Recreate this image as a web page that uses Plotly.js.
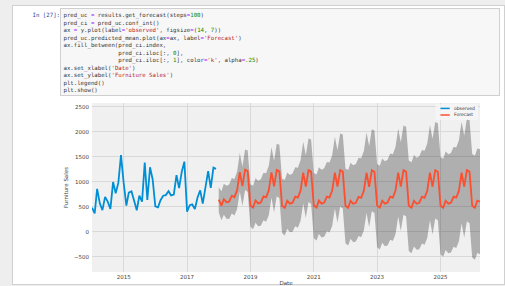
<!DOCTYPE html>
<html>
<head>
<meta charset="utf-8">
<script src="https://cdn.plot.ly/plotly-3.0.1.min.js"></script>
<style>
html,body{margin:0;padding:0;background:#eeeeee;width:505px;height:286px;overflow:hidden;}
#cell{position:absolute;left:12px;top:5px;width:491px;height:278px;background:#ffffff;border:1px solid #d0d0d0;}
#prompt{position:absolute;left:14px;top:11.5px;width:46px;text-align:right;font-family:"DejaVu Sans Mono",monospace;font-size:5.7px;line-height:7.5px;color:#303F9F;white-space:pre;}
#code{position:absolute;left:60px;top:8px;width:438px;height:86px;background:#f7f7f7;border:1px solid #cfcfcf;}
#code .ln{position:absolute;left:2.5px;height:7.5px;font-family:"DejaVu Sans Mono",monospace;font-size:5.7px;line-height:7.5px;color:#333333;white-space:pre;}
.s{color:#BA2121}.n{color:#008800}.o{color:#AA22FF}
#chart{position:absolute;left:0;top:0;width:505px;height:286px;}
</style>
</head>
<body>
<div id="cell"></div>
<div id="prompt">In [27]:</div>
<div id="code">
<div class="ln" style="top:3px">pred_uc <span class="o">=</span> results.get_forecast(steps<span class="o">=</span><span class="n">100</span>)</div>
<div class="ln" style="top:10.5px">pred_ci <span class="o">=</span> pred_uc.conf_int()</div>
<div class="ln" style="top:18px">ax <span class="o">=</span> y.plot(label<span class="o">=</span><span class="s">'observed'</span>, figsize<span class="o">=</span>(<span class="n">14</span>, <span class="n">7</span>))</div>
<div class="ln" style="top:25.5px">pred_uc.predicted_mean.plot(ax<span class="o">=</span>ax, label<span class="o">=</span><span class="s">'Forecast'</span>)</div>
<div class="ln" style="top:33px">ax.fill_between(pred_ci.index,</div>
<div class="ln" style="top:40.5px">                pred_ci.iloc[:, <span class="n">0</span>],</div>
<div class="ln" style="top:48px">                pred_ci.iloc[:, <span class="n">1</span>], color<span class="o">=</span><span class="s">'k'</span>, alpha<span class="o">=</span><span class="n">.25</span>)</div>
<div class="ln" style="top:55.5px">ax.set_xlabel(<span class="s">'Date'</span>)</div>
<div class="ln" style="top:63px">ax.set_ylabel(<span class="s">'Furniture Sales'</span>)</div>
<div class="ln" style="top:70.5px">plt.legend()</div>
<div class="ln" style="top:78px">plt.show()</div>
</div>
<div id="chart"></div>
<script>
// ---- data ----
const observedStart = [2014, 1];
const observedSales = [
  480, 368, 857, 567, 432, 695, 601, 457, 992, 769, 980, 1532,
  978, 522, 781, 806, 625, 429, 720, 602, 1383, 633, 1287, 1049,
  509, 489, 629, 720, 731, 809, 724, 741, 1130, 870, 1200, 1400,
  400, 530, 545, 455, 680, 825, 560, 860, 1210, 875, 1280, 1256
];
const forecastStart = [2018, 1];
const forecastMean = [
  640, 520, 650, 590, 600, 720, 690, 830, 1190, 910, 1240, 1210,
  525, 485, 625, 565, 585, 705, 685, 825, 1185, 905, 1235, 1205,
  520, 480, 620, 560, 580, 700, 680, 820, 1180, 900, 1230, 1200,
  522, 482, 622, 562, 582, 702, 682, 822, 1182, 902, 1232, 1202,
  518, 478, 618, 558, 578, 698, 678, 818, 1178, 898, 1228, 1198,
  521, 481, 621, 561, 581, 701, 681, 821, 1181, 901, 1231, 1201,
  519, 479, 619, 559, 579, 699, 679, 819, 1179, 899, 1229, 1199,
  520, 480, 620, 560, 580, 700, 680, 820, 1180, 900, 1230, 1200,
  520, 480, 620, 600
];
const forecastLower = [
  390, 230, 340, 260, 255, 365, 325, 455, 805, 515, 835, 795,
  100, 50, 180, 110, 120, 230, 200, 330, 680, 390, 710, 670,
  -25, -74, 57, -12, -1, 110, 81, 212, 563, 274, 595, 556,
  -130, -178, -46, -114, -102, 10, -18, 114, 466, 178, 500, 462,
  -229, -276, -143, -210, -197, -84, -111, 22, 375, 88, 411, 374,
  -310, -356, -222, -288, -274, -160, -186, -52, 302, 16, 340, 304,
  -384, -430, -296, -362, -348, -234, -260, -126, 228, -58, 266, 230,
  -455, -500, -365, -430, -415, -300, -325, -190, 165, -120, 205, 170,
  -515, -560, -425, -450
];
const forecastUpper = [
  890, 810, 960, 920, 945, 1075, 1055, 1205, 1575, 1305, 1645, 1625,
  950, 920, 1070, 1020, 1050, 1180, 1170, 1320, 1690, 1420, 1760, 1740,
  1065, 1034, 1183, 1132, 1161, 1290, 1279, 1428, 1797, 1526, 1865, 1844,
  1174, 1142, 1290, 1238, 1266, 1394, 1382, 1530, 1898, 1626, 1964, 1942,
  1265, 1232, 1379, 1326, 1353, 1480, 1467, 1614, 1981, 1708, 2045, 2022,
  1352, 1318, 1464, 1410, 1436, 1562, 1548, 1694, 2060, 1786, 2122, 2098,
  1422, 1388, 1534, 1480, 1506, 1632, 1618, 1764, 2130, 1856, 2192, 2168,
  1495, 1460, 1605, 1550, 1575, 1700, 1685, 1830, 2195, 1920, 2255, 2230,
  1555, 1520, 1665, 1650
];
const seriesNames = ['observed', 'Forecast'];
const seriesColors = ['#008fd5', '#fc4f30'];
const yTickValues = [-500, 0, 500, 1000, 1500, 2000, 2500];
const xTickYears = ['2015', '2017', '2019', '2021', '2023', '2025'];
const xRange = ['2014-01-01', '2026-04-01'];
const yRange = [-805, 2572];

function monthSeq(start, n) {
  const out = [];
  for (let i = 0; i < n; i++) {
    const m = start[1] - 1 + i;
    const y = start[0] + Math.floor(m / 12);
    const mm = (m % 12) + 1;
    out.push(y + '-' + String(mm).padStart(2, '0') + '-01');
  }
  return out;
}
const obsDates = monthSeq(observedStart, observedSales.length);
const fcDates = monthSeq(forecastStart, forecastMean.length);

const font = {family: 'DejaVu Sans, sans-serif', size: 5.5, color: '#444444'};
const legFont = {family: 'DejaVu Sans, sans-serif', size: 4.5, color: '#333333'};

const traces = [
  {x: fcDates, y: forecastLower, type: 'scatter', mode: 'lines', showlegend: false,
   line: {width: 0, color: 'rgba(0,0,0,0)'}, hoverinfo: 'skip'},
  {x: fcDates, y: forecastUpper, type: 'scatter', mode: 'lines', showlegend: false,
   fill: 'tonexty', fillcolor: 'rgba(0,0,0,0.27)',
   line: {width: 0, color: 'rgba(0,0,0,0)'}, hoverinfo: 'skip'},
  {x: obsDates, y: observedSales, type: 'scatter', mode: 'lines', name: seriesNames[0],
   line: {color: seriesColors[0], width: 1.8}},
  {x: fcDates, y: forecastMean, type: 'scatter', mode: 'lines', name: seriesNames[1],
   line: {color: seriesColors[1], width: 1.8}}
];

// compact matplotlib-like legend (top right, inside the axes)
const legRowsY = [0.968, 0.929];
const shapes = [
  {type: 'rect', xref: 'paper', yref: 'paper', x0: 0.885, x1: 0.995, y0: 0.9, y1: 0.993,
   fillcolor: 'rgba(246,246,246,0.85)', line: {width: 0}, layer: 'above'}
];
const annotations = [];
seriesNames.forEach((nm, i) => {
  shapes.push({type: 'line', xref: 'paper', yref: 'paper', x0: 0.898, x1: 0.922,
    y0: legRowsY[i], y1: legRowsY[i], line: {color: seriesColors[i], width: 1.5}, layer: 'above'});
  annotations.push({xref: 'paper', yref: 'paper', x: 0.929, y: legRowsY[i],
    xanchor: 'left', yanchor: 'middle', text: nm, showarrow: false, font: legFont});
});

const layout = {
  width: 505, height: 286,
  margin: {l: 92, r: 25, t: 103, b: 14, pad: 0},
  paper_bgcolor: 'rgba(0,0,0,0)',
  plot_bgcolor: '#f0f0f0',
  font: font,
  showlegend: false,
  shapes: shapes,
  annotations: annotations,
  xaxis: {
    type: 'date', range: xRange,
    tickvals: xTickYears.map(y => y + '-01-01'), ticktext: xTickYears,
    showgrid: true, gridcolor: '#d9d9d9', gridwidth: 1,
    zeroline: false, showline: false, ticks: '',
    tickfont: font, automargin: false,
    title: {text: 'Date', font: font, standoff: 2}
  },
  yaxis: {
    range: yRange, tickvals: yTickValues,
    showgrid: true, gridcolor: '#d9d9d9', gridwidth: 1,
    zeroline: false, showline: false, ticks: '',
    tickfont: font, automargin: false, ticklabelstandoff: 2,
    title: {text: 'Furniture Sales', font: font, standoff: 4}
  }
};

Plotly.newPlot('chart', traces, layout, {displayModeBar: false, staticPlot: true});
</script>
</body>
</html>
